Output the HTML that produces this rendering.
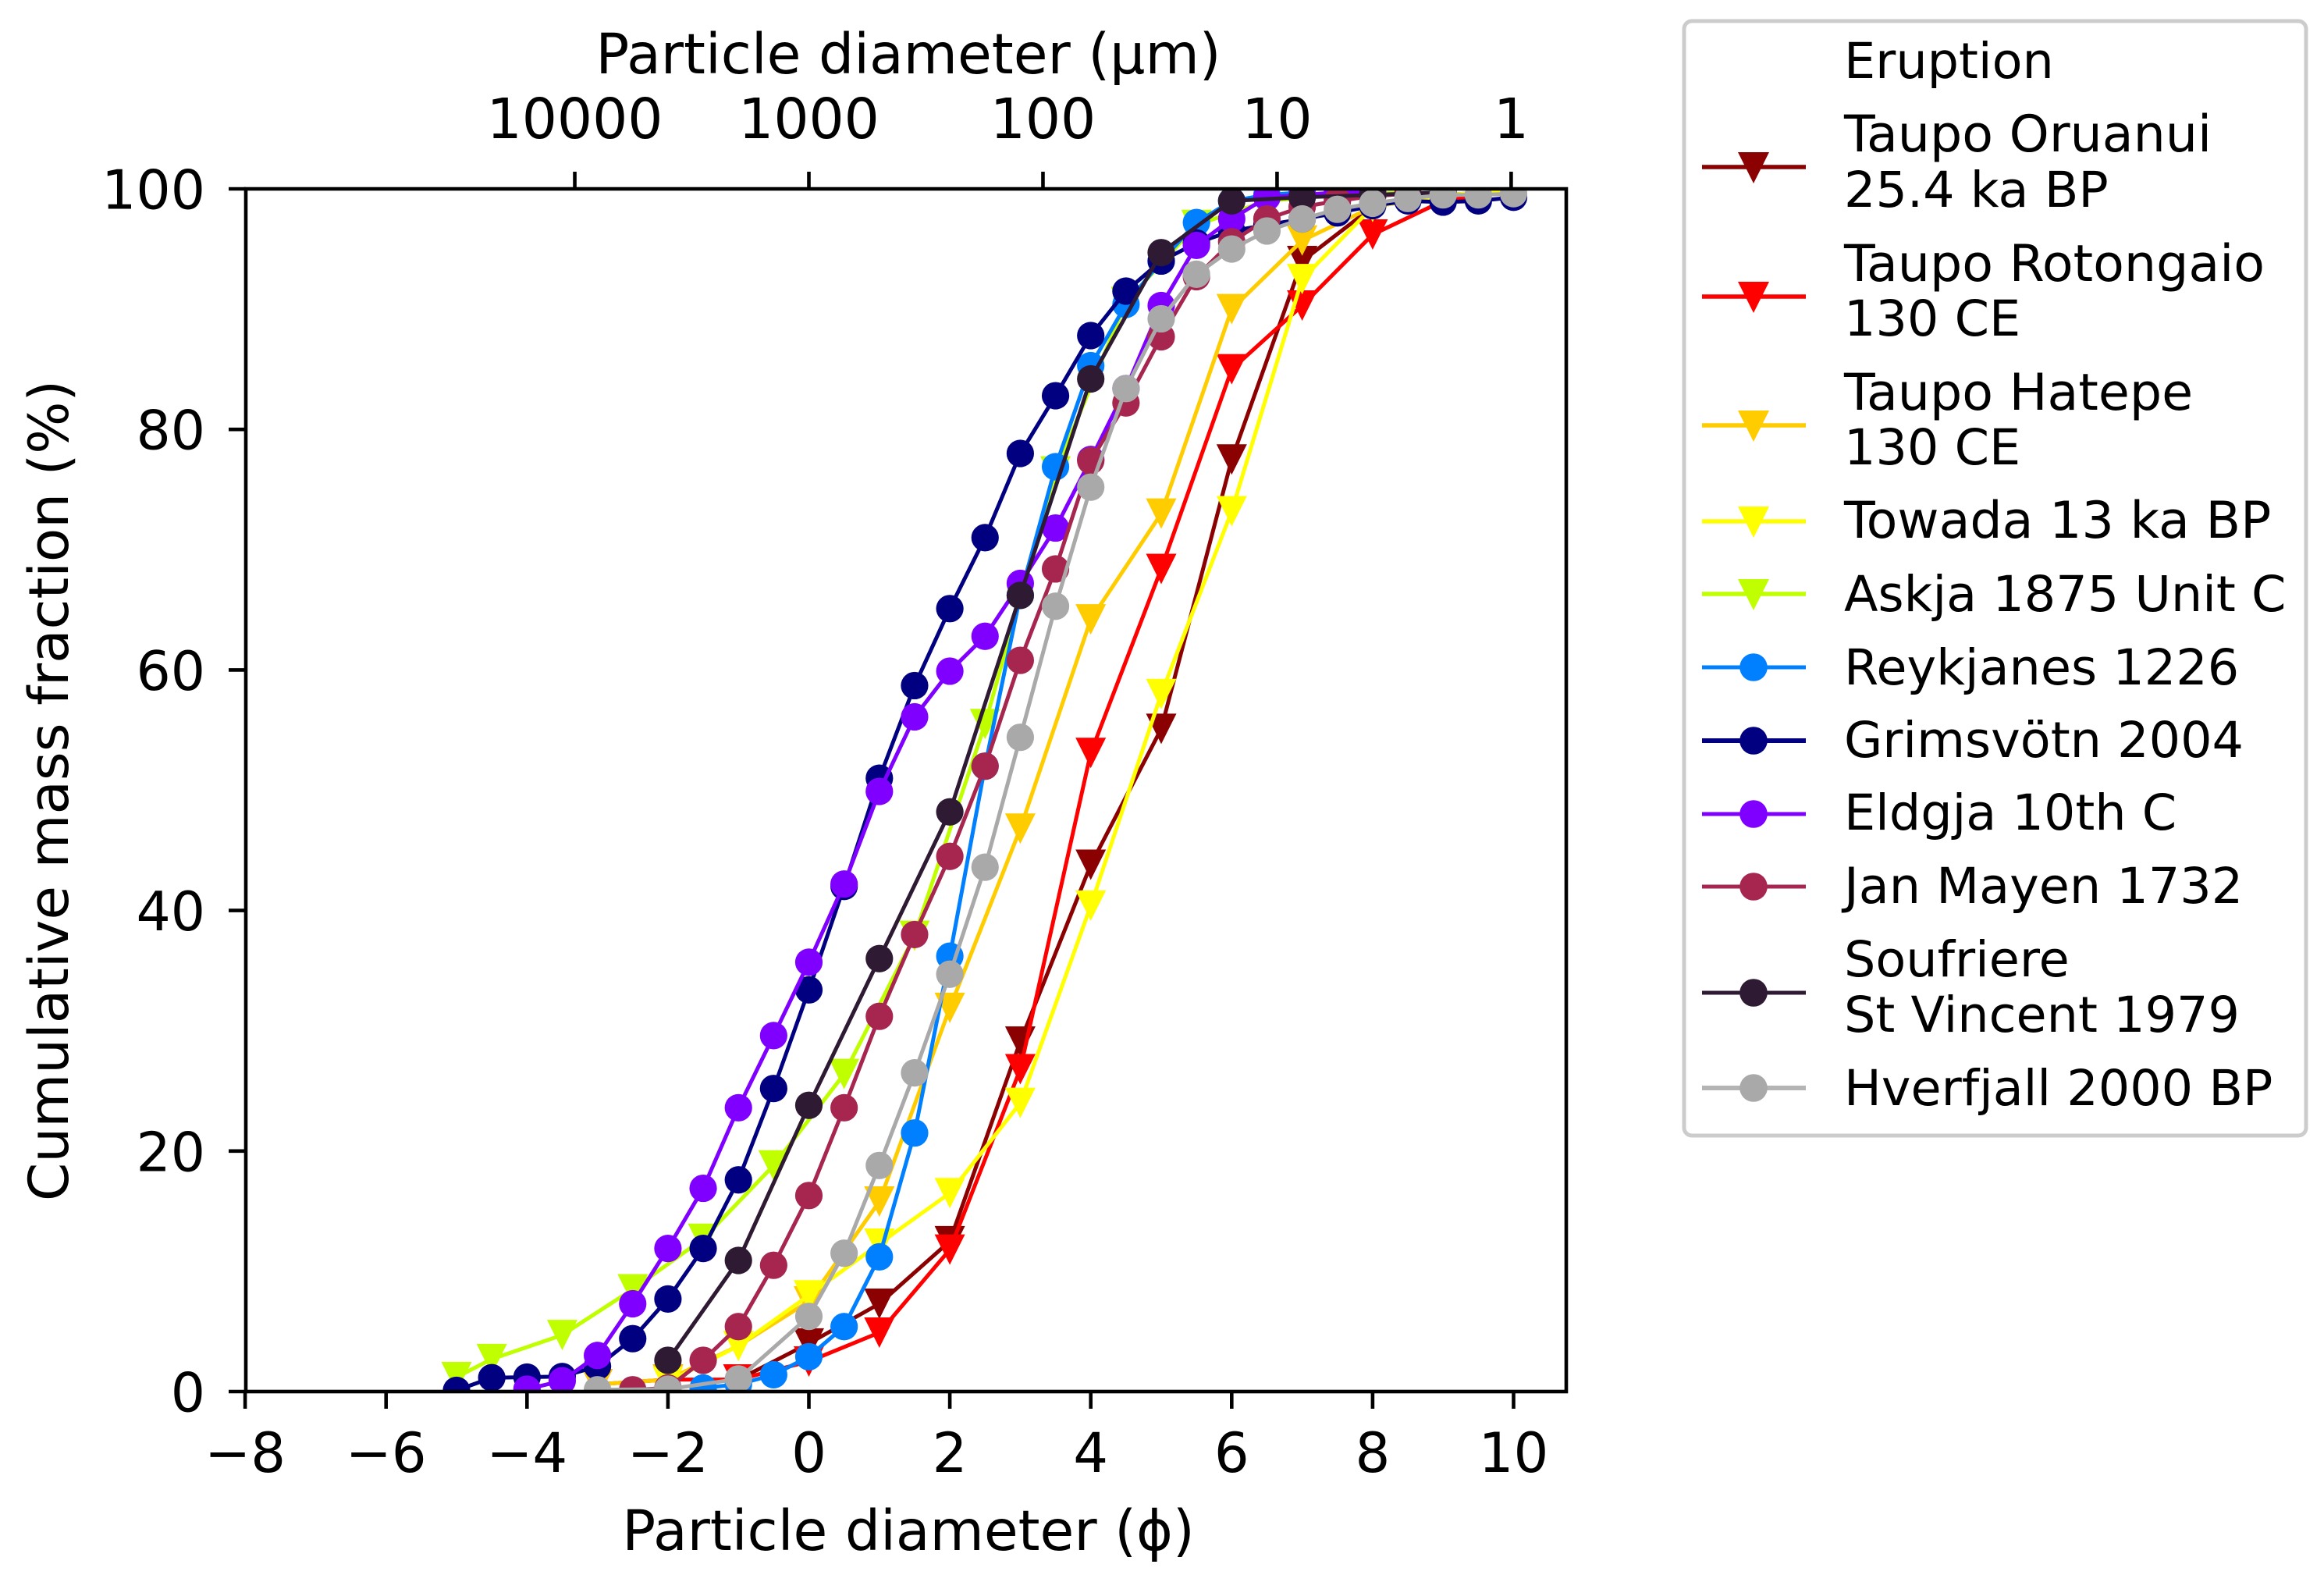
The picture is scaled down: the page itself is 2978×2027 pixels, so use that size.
<!DOCTYPE html>
<html>
<head>
<meta charset="utf-8">
<style>
html,body{margin:0;padding:0;background:#fff;}
svg{display:block;}
text{font-family:"DejaVu Sans",sans-serif;fill:#000;}
</style>
</head>
<body>
<svg id="chart" xmlns="http://www.w3.org/2000/svg" width="2978" height="2027" viewBox="0 0 2978 2027">
  <defs><clipPath id="plot-clip"><rect x="315" y="242" width="1692" height="1541"/></clipPath></defs>
  <rect x="0" y="0" width="2978" height="2027" fill="#fff"/>
  <g id="series-layer" clip-path="url(#plot-clip)"></g>
  <rect x="315" y="242" width="1692" height="1541" fill="none" stroke="#000" stroke-width="4.6"/>
  <g id="tick-layer"></g>
  <text x="1164" y="94" font-size="71.2" text-anchor="middle">Particle diameter (µm)</text>
  <text x="1164" y="1986" font-size="71.2" text-anchor="middle">Particle diameter (ϕ)</text>
  <text transform="translate(87,1013) rotate(-90)" font-size="70.8" text-anchor="middle">Cumulative mass fraction (%)</text>

  <g>
    <rect x="2158" y="27" width="797" height="1428" rx="10" ry="10" fill="#fff" stroke="#ccc" stroke-width="5"/>
    <g font-size="63.6">
      <text x="2363" y="100">Eruption</text>
      <g><line x1="2181" x2="2314" y1="214" y2="214" stroke="#8b0000" stroke-width="5.5"/><polygon points="2227,195 2267,195 2247,235" fill="#8b0000"/><text x="2363" y="194" font-size="65">Taupo Oruanui</text><text x="2363" y="265">25.4 ka BP</text></g>
      <g><line x1="2181" x2="2314" y1="380" y2="380" stroke="#ff0000" stroke-width="5.5"/><polygon points="2227,361 2267,361 2247,401" fill="#ff0000"/><text x="2363" y="360" font-size="65">Taupo Rotongaio</text><text x="2363" y="430">130 CE</text></g>
      <g><line x1="2181" x2="2314" y1="545" y2="545" stroke="#ffcc00" stroke-width="5.5"/><polygon points="2227,526 2267,526 2247,566" fill="#ffcc00"/><text x="2363" y="525" font-size="65">Taupo Hatepe</text><text x="2363" y="595">130 CE</text></g>
      <g><line x1="2181" x2="2314" y1="668" y2="668" stroke="#ffff00" stroke-width="5.5"/><polygon points="2227,649 2267,649 2247,689" fill="#ffff00"/><text x="2363" y="689" font-size="65">Towada 13 ka BP</text></g>
      <g><line x1="2181" x2="2314" y1="761" y2="761" stroke="#bfff00" stroke-width="5.5"/><polygon points="2227,742 2267,742 2247,782" fill="#bfff00"/><text x="2363" y="783">Askja 1875 Unit C</text></g>
      <g><line x1="2181" x2="2314" y1="855" y2="855" stroke="#0080ff" stroke-width="5"/><circle cx="2247" cy="855" r="17.8" fill="#0080ff"/><text x="2363" y="877">Reykjanes 1226</text></g>
      <g><line x1="2181" x2="2314" y1="949" y2="949" stroke="#000080" stroke-width="6"/><circle cx="2247" cy="949" r="17.8" fill="#000080"/><text x="2363" y="970">Grimsvötn 2004</text></g>
      <g><line x1="2181" x2="2314" y1="1043" y2="1043" stroke="#8000ff" stroke-width="5"/><circle cx="2247" cy="1043" r="17.8" fill="#8000ff"/><text x="2363" y="1063">Eldgja 10th C</text></g>
      <g><line x1="2181" x2="2314" y1="1136" y2="1136" stroke="#a6264f" stroke-width="5"/><circle cx="2247" cy="1136" r="17.8" fill="#a6264f"/><text x="2363" y="1157">Jan Mayen 1732</text></g>
      <g><line x1="2181" x2="2314" y1="1272" y2="1272" stroke="#2e1a33" stroke-width="5"/><circle cx="2247" cy="1272" r="17.8" fill="#2e1a33"/><text x="2363" y="1251">Soufriere</text><text x="2363" y="1322">St Vincent 1979</text></g>
      <g><line x1="2181" x2="2314" y1="1394" y2="1394" stroke="#b4b4b4" stroke-width="6"/><circle cx="2247" cy="1394" r="17.8" fill="#a9a9a9"/><text x="2363" y="1416">Hverfjall 2000 BP</text></g>
    </g>
  </g>
</svg>
<script>
const xTickValues = [-8, -6, -4, -2, 0, 2, 4, 6, 8, 10];
const yTickValues = [0, 20, 40, 60, 80, 100];
const topTickMicrons = [10000, 1000, 100, 10, 1];

const phiOruanui = [-1, 0, 1, 2, 3, 4, 5, 6, 7, 8, 9, 10];
const valOruanui = [1, 4, 7.3, 12.5, 29.1, 43.8, 55.1, 77.5, 94, 98.5, 99.5, 99.8];

const phiRotongaio = [-3, -2, -1, 0, 1, 2, 3, 4, 5, 6, 7, 8, 9, 10];
const valRotongaio = [0.6, 1, 1, 2.5, 4.9, 11.8, 26.8, 53.1, 68.4, 85, 90.3, 96.2, 99, 99.8];

const phiHatepe = [-3, -2, -1, 0, 1, 2, 3, 4, 5, 6, 7, 8, 9, 10];
const valHatepe = [0.6, 1, 3.8, 7.5, 15.8, 31.9, 46.8, 64.2, 73, 90, 95.7, 98.5, 99.5, 99.7];

const phiTowada = [-2, -1, 0, 1, 2, 3, 4, 5, 6, 7, 8, 9, 10];
const valTowada = [0.8, 3.8, 8, 12.3, 16.5, 24, 40.4, 58, 73.2, 92.5, 98.5, 99.5, 99.8];

const phiAskja = [-5, -4.5, -3.5, -2.5, -1.5, -0.5, 0.5, 1.5, 2.5, 3.5, 4.5, 5.5, 6.5, 7.5, 8.5];
const valAskja = [1.2, 2.7, 4.7, 8.5, 12.7, 18.8, 26.4, 37.9, 55.5, 76.5, 90.6, 97, 99, 99.5, 99.7];

const phiReykjanes = [-1.5, -1, -0.5, 0, 0.5, 1, 1.5, 2, 2.5, 3, 3.5, 4, 4.5, 5, 5.5, 6, 6.5, 7];
const valReykjanes = [0.3, 0.6, 1.4, 2.9, 5.4, 11.2, 21.5, 36.2, 52, 66.2, 76.9, 85.3, 90.4, 94, 97.2, 99, 99.5, 99.7];

const phiGrimsvotn = [-5, -4.5, -4, -3.5, -3, -2.5, -2, -1.5, -1, -0.5, 0, 0.5, 1, 1.5, 2, 2.5, 3, 3.5, 4, 4.5, 5, 5.5, 6, 6.5, 7, 7.5, 8, 8.5, 9, 9.5, 10];
const valGrimsvotn = [0.1, 1.15, 1.2, 1.25, 2.1, 4.4, 7.7, 11.9, 17.6, 25.2, 33.4, 42, 51, 58.7, 65.1, 71, 78, 82.8, 87.8, 91.5, 94, 95.5, 96.5, 97, 97.5, 98, 98.6, 99, 98.9, 99, 99.3];

const phiEldgja = [-4, -3.5, -3, -2.5, -2, -1.5, -1, -0.5, 0, 0.5, 1, 1.5, 2, 2.5, 3, 3.5, 4, 4.5, 5, 5.5, 6, 6.5, 7, 7.5, 8];
const valEldgja = [0.2, 0.9, 3, 7.3, 11.9, 16.9, 23.6, 29.6, 35.7, 42.2, 49.9, 56.1, 59.9, 62.8, 67.2, 71.8, 77.5, 83.4, 90.3, 95.3, 97.5, 99.3, 99.5, 99.7, 99.8];

const phiJanMayen = [-2.5, -2, -1.5, -1, -0.5, 0, 0.5, 1, 1.5, 2, 2.5, 3, 3.5, 4, 4.5, 5, 5.5, 6, 6.5, 7, 7.5, 8, 8.5];
const valJanMayen = [0.15, 0.3, 2.6, 5.4, 10.5, 16.3, 23.6, 31.2, 38, 44.5, 52, 60.8, 68.4, 77.4, 82.2, 87.7, 92.7, 95.6, 97.5, 98.5, 99, 99.4, 99.6];

const phiSoufriere = [-2, -1, 0, 1, 2, 3, 4, 5, 6, 7, 8, 9];
const valSoufriere = [2.6, 10.9, 23.8, 36, 48.2, 66.2, 84.2, 94.7, 99, 99.3, 99.5, 99.7];

const phiHverfjall = [-3, -2, -1, 0, 0.5, 1, 1.5, 2, 2.5, 3, 3.5, 4, 4.5, 5, 5.5, 6, 6.5, 7, 7.5, 8, 8.5, 9, 9.5, 10];
const valHverfjall = [0.15, 0.2, 1.05, 6.25, 11.5, 18.8, 26.5, 34.7, 43.6, 54.4, 65.3, 75.2, 83.4, 89.2, 92.9, 95, 96.5, 97.5, 98.3, 98.8, 99.2, 99.5, 99.5, 99.6];

const NS = 'http://www.w3.org/2000/svg';
const xScale = function (phi) { return 1036.5 + 90.3 * phi; };
const yScale = function (v) { return 1783 - 15.41 * v; };
const micronToPhi = function (um) { return -Math.log2(um / 1000); };

const seriesLayer = document.getElementById('series-layer');
const tickLayer = document.getElementById('tick-layer');
const TICK_LEN = 22;

function addTick(x1, y1, x2, y2, name) {
  const t = document.createElementNS(NS, 'line');
  t.setAttribute('x1', x1); t.setAttribute('y1', y1);
  t.setAttribute('x2', x2); t.setAttribute('y2', y2);
  t.setAttribute('stroke', '#000'); t.setAttribute('stroke-width', '4.6');
  
  
  tickLayer.appendChild(t);
}
function addLabel(x, y, anchor, size, str, name) {
  const t = document.createElementNS(NS, 'text');
  t.setAttribute('x', x); t.setAttribute('y', y);
  t.setAttribute('text-anchor', anchor); t.setAttribute('font-size', size);
  t.textContent = str;
  
  
  tickLayer.appendChild(t);
}
xTickValues.forEach(function (v) {
  addTick(xScale(v), 1783, xScale(v), 1783 + TICK_LEN, 'x-tick');
  addLabel(xScale(v), 1886, 'middle', '70.5', String(v).replace('-', '\u2212'), 'x-tick-label');
});
yTickValues.forEach(function (v) {
  addTick(315, yScale(v), 315 - TICK_LEN, yScale(v), 'y-tick');
  addLabel(263, yScale(v) + 25.5, 'end', '69.6', String(v), 'y-tick-label');
});
topTickMicrons.forEach(function (um) {
  const x = xScale(micronToPhi(um));
  addTick(x, 242, x, 242 - TICK_LEN, 'top-tick');
  addLabel(x, 177, 'middle', '71', String(um), 'top-tick-label');
});

function drawSeries(name, phis, vals, color, marker, width) {
  const g = document.createElementNS(NS, 'g');
  
  
  const line = document.createElementNS(NS, 'polyline');
  const pts = phis.map(function (p, i) { return xScale(p) + ',' + yScale(vals[i]); }).join(' ');
  line.setAttribute('points', pts);
  line.setAttribute('fill', 'none');
  line.setAttribute('stroke', color);
  line.setAttribute('stroke-width', width);
  line.setAttribute('stroke-linejoin', 'round');
  
  
  g.appendChild(line);
  phis.forEach(function (p, i) {
    const cx = xScale(p), cy = yScale(vals[i]);
    let m;
    if (marker === 'tri') {
      m = document.createElementNS(NS, 'polygon');
      m.setAttribute('points', (cx - 19.5) + ',' + (cy - 19.5) + ' ' + (cx + 19.5) + ',' + (cy - 19.5) + ' ' + cx + ',' + (cy + 19.5));
    } else {
      m = document.createElementNS(NS, 'circle');
      m.setAttribute('cx', cx); m.setAttribute('cy', cy); m.setAttribute('r', '17.6');
    }
    m.setAttribute('fill', color);
    
    
    g.appendChild(m);
  });
  seriesLayer.appendChild(g);
}
drawSeries('oruanui', phiOruanui, valOruanui, '#8b0000', 'tri', 5);
drawSeries('rotongaio', phiRotongaio, valRotongaio, '#ff0000', 'tri', 5);
drawSeries('hatepe', phiHatepe, valHatepe, '#ffcc00', 'tri', 5);
drawSeries('towada', phiTowada, valTowada, '#ffff00', 'tri', 5);
drawSeries('askja', phiAskja, valAskja, '#bfff00', 'tri', 5);
drawSeries('reykjanes', phiReykjanes, valReykjanes, '#0080ff', 'dot', 5);
drawSeries('grimsvotn', phiGrimsvotn, valGrimsvotn, '#000080', 'dot', 5);
drawSeries('eldgja', phiEldgja, valEldgja, '#8000ff', 'dot', 5);
drawSeries('jan-mayen', phiJanMayen, valJanMayen, '#a6264f', 'dot', 5);
drawSeries('soufriere', phiSoufriere, valSoufriere, '#2e1a33', 'dot', 5);
drawSeries('hverfjall', phiHverfjall, valHverfjall, '#a9a9a9', 'dot', 5);
</script>
</body>
</html>
